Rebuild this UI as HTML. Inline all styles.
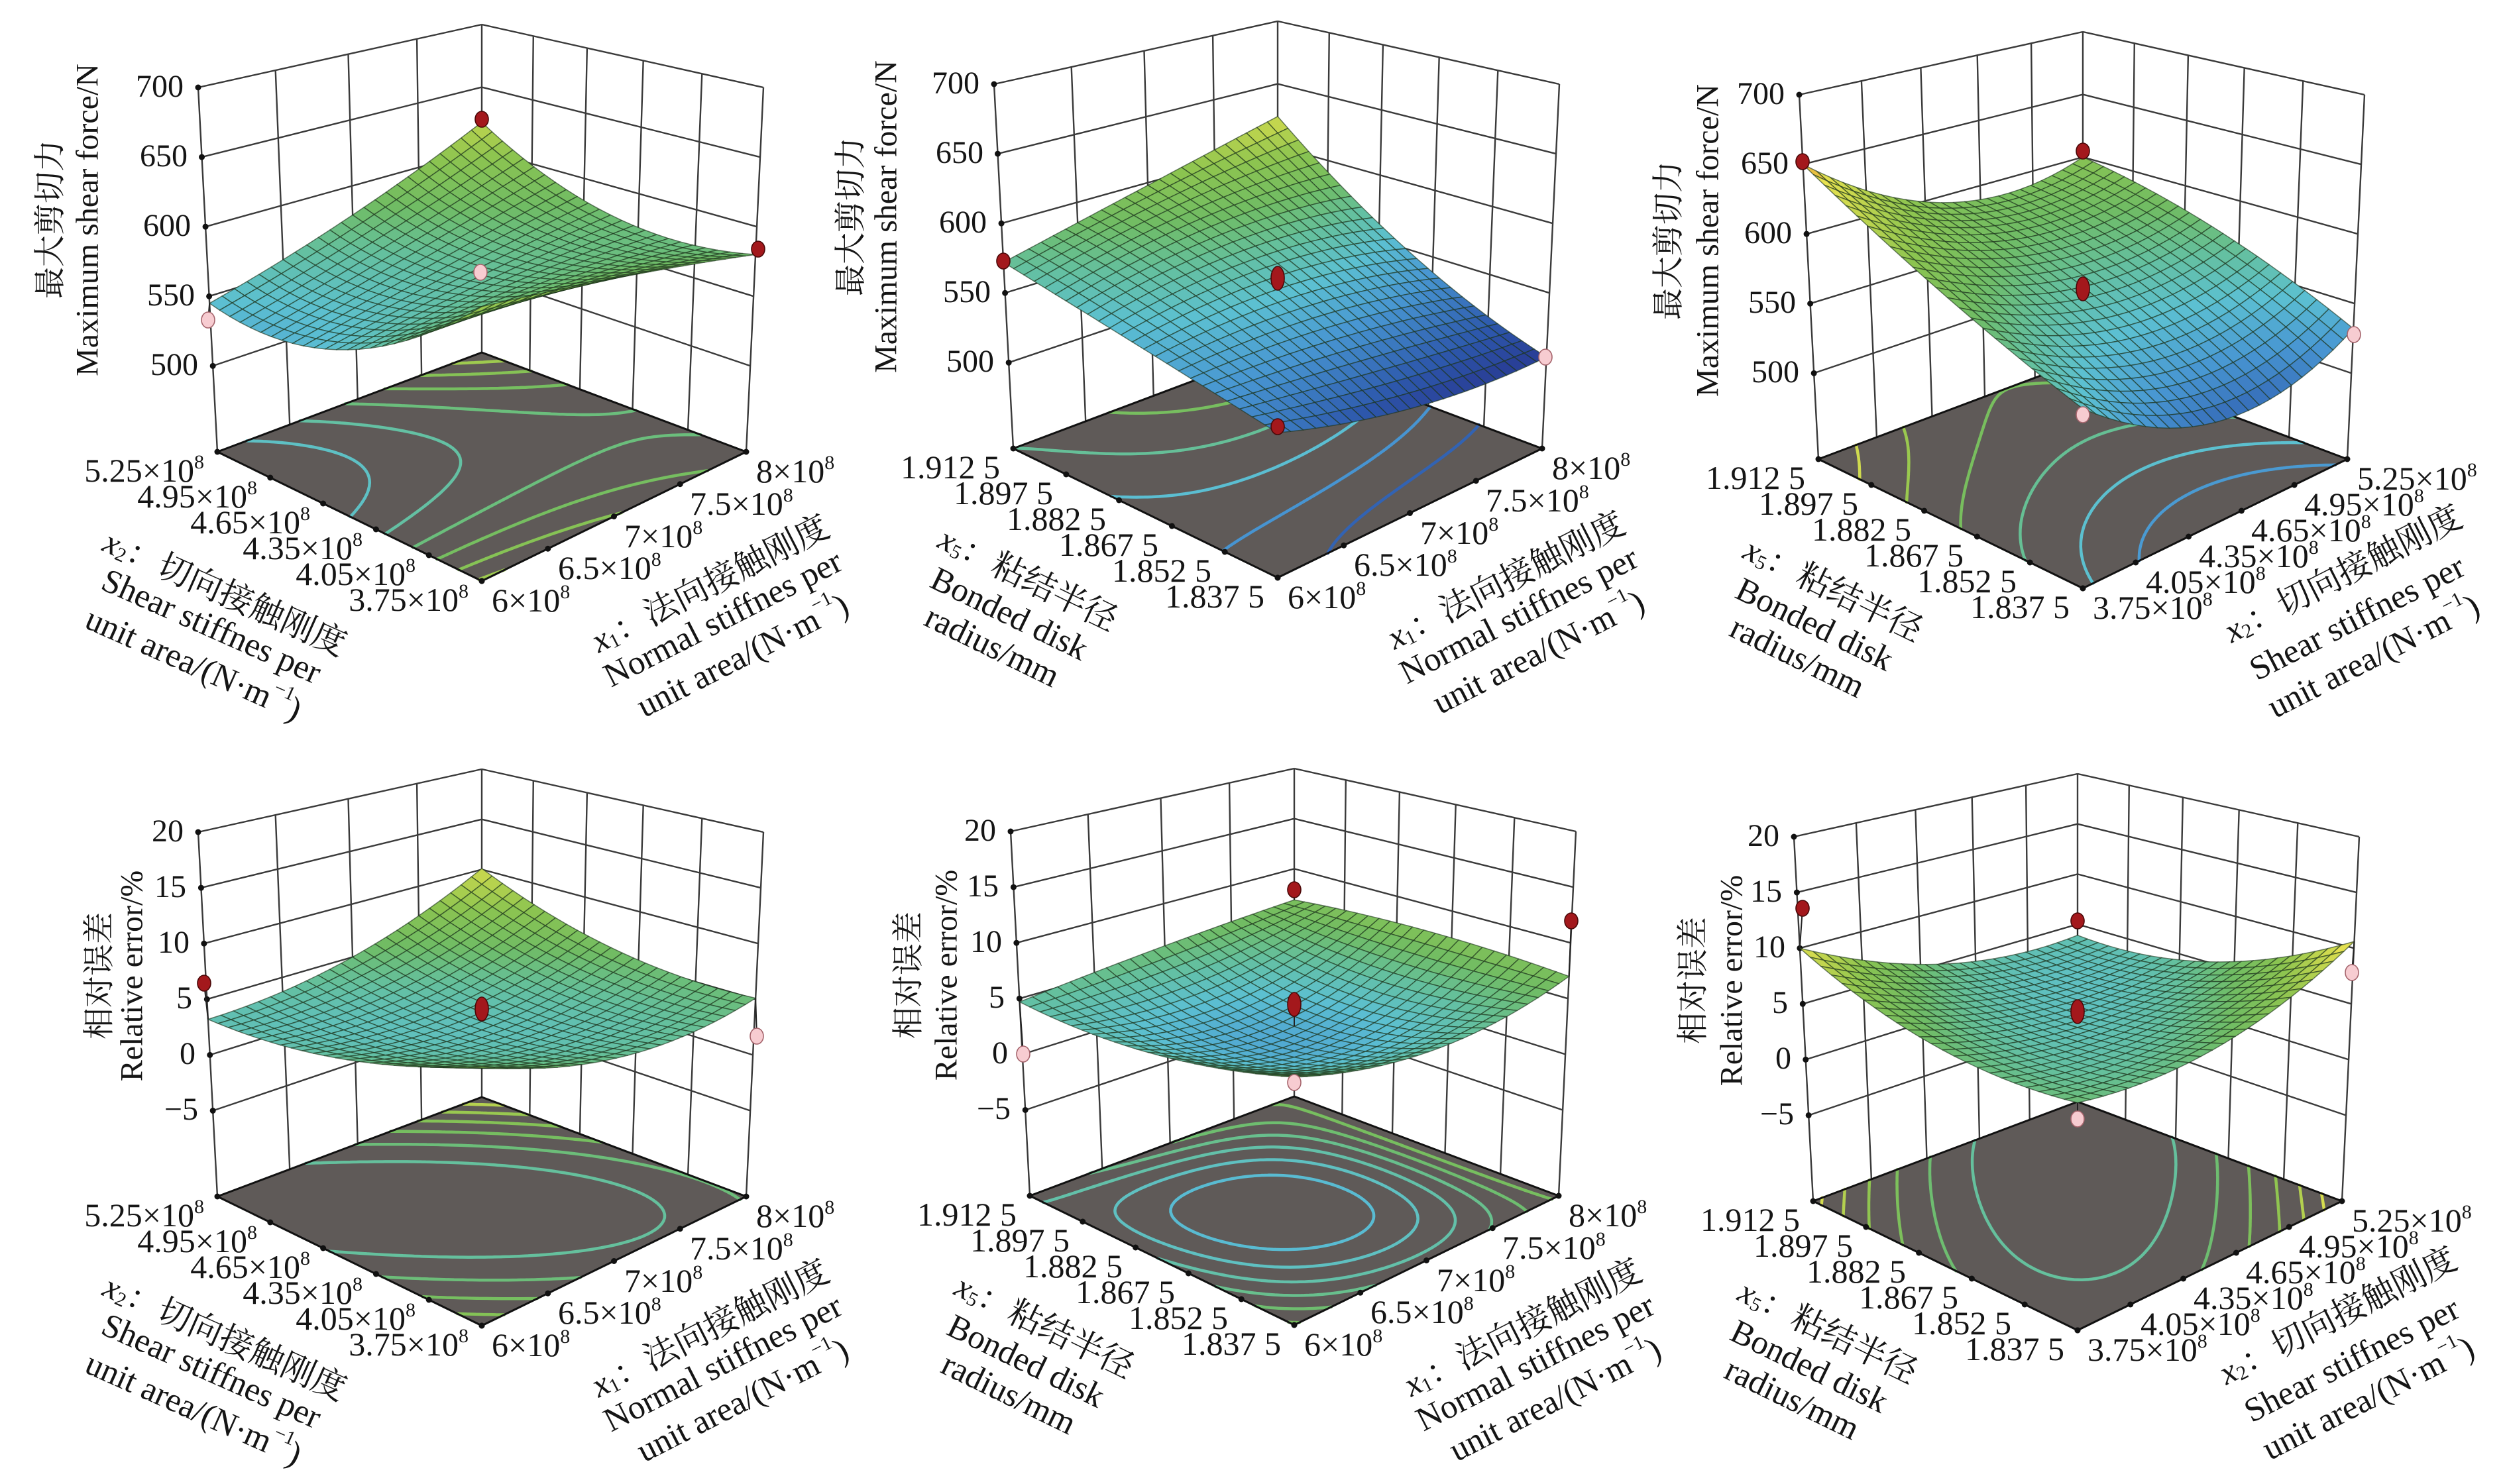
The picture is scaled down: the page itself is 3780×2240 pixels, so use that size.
<!DOCTYPE html>
<html><head><meta charset="utf-8">
<style>
html,body{margin:0;padding:0;background:#fff;}
svg{display:block;}
text{font-family:"Liberation Serif","Noto Serif CJK SC",serif;font-size:48px;fill:#151515;}
text.fl{font-size:50px;}
text.ti{font-size:51px;}
.c{font-family:"Noto Serif CJK SC","Liberation Serif",serif;}
</style></head><body>
<svg id="s" width="3780" height="2240" viewBox="0 0 3780 2240" xmlns="http://www.w3.org/2000/svg">
<rect width="3780" height="2240" fill="#fff"/>

<!-- PANEL 1 -->
<g id="p1" transform="translate(727,877)">
<text x="-428" y="-311" text-anchor="end">500</text>
<text x="-433" y="-416" text-anchor="end">550</text>
<text x="-439" y="-521" text-anchor="end">600</text>
<text x="-444" y="-626" text-anchor="end">650</text>
<text x="-450" y="-731" text-anchor="end">700</text>
<text transform="translate(-656,-546) rotate(-90)" text-anchor="middle" dominant-baseline="central" class="c">最大剪切力</text>
<text transform="translate(-595,-545) rotate(-90)" text-anchor="middle" dominant-baseline="central">Maximum shear force/N</text>
<text class="fl" x="-20" y="45" text-anchor="end">3.75×10<tspan font-size="30" dy="-20">8</tspan></text>
<text class="fl" x="-100" y="6" text-anchor="end">4.05×10<tspan font-size="30" dy="-20">8</tspan></text>
<text class="fl" x="-180" y="-33" text-anchor="end">4.35×10<tspan font-size="30" dy="-20">8</tspan></text>
<text class="fl" x="-259" y="-72" text-anchor="end">4.65×10<tspan font-size="30" dy="-20">8</tspan></text>
<text class="fl" x="-339" y="-111" text-anchor="end">4.95×10<tspan font-size="30" dy="-20">8</tspan></text>
<text class="fl" x="-419" y="-150" text-anchor="end">5.25×10<tspan font-size="30" dy="-20">8</tspan></text>
<text class="fl" x="15" y="46">6×10<tspan font-size="30" dy="-20">8</tspan></text>
<text class="fl" x="115" y="-3">6.5×10<tspan font-size="30" dy="-20">8</tspan></text>
<text class="fl" x="215" y="-51">7×10<tspan font-size="30" dy="-20">8</tspan></text>
<text class="fl" x="314" y="-100">7.5×10<tspan font-size="30" dy="-20">8</tspan></text>
<text class="fl" x="414" y="-149">8×10<tspan font-size="30" dy="-20">8</tspan></text>
<text class="ti" transform="translate(-388,19) rotate(24)" text-anchor="middle" dominant-baseline="central"><tspan font-style="italic">x</tspan><tspan font-size="30" dy="10">2</tspan><tspan dy="-10">：切向接触刚度</tspan></text>
<text class="ti" transform="translate(-408,69) rotate(24)" text-anchor="middle" dominant-baseline="central">Shear stiffnes per</text>
<text class="ti" transform="translate(-435,126) rotate(24)" text-anchor="middle" dominant-baseline="central">unit area/(N·m<tspan font-size="30" dy="-20">−1</tspan><tspan dy="20">)</tspan></text>
<text class="ti" transform="translate(345,5) rotate(-27)" text-anchor="middle" dominant-baseline="central"><tspan font-style="italic">x</tspan><tspan font-size="30" dy="10">1</tspan><tspan dy="-10">：法向接触刚度</tspan></text>
<text class="ti" transform="translate(364,57) rotate(-27)" text-anchor="middle" dominant-baseline="central">Normal stiffnes per</text>
<text class="ti" transform="translate(394,113) rotate(-27)" text-anchor="middle" dominant-baseline="central">unit area/(N·m<tspan font-size="30" dy="-20">−1</tspan><tspan dy="20">)</tspan></text>
</g>

<!-- PANEL 2 -->
<g id="p2" transform="translate(1928,872)">
<text x="-428" y="-311" text-anchor="end">500</text>
<text x="-433" y="-416" text-anchor="end">550</text>
<text x="-439" y="-521" text-anchor="end">600</text>
<text x="-444" y="-626" text-anchor="end">650</text>
<text x="-450" y="-731" text-anchor="end">700</text>
<text transform="translate(-649,-545) rotate(-90)" text-anchor="middle" dominant-baseline="central" class="c">最大剪切力</text>
<text transform="translate(-591,-545) rotate(-90)" text-anchor="middle" dominant-baseline="central">Maximum shear force/N</text>
<text class="fl" x="-20" y="45" text-anchor="end">1.837 5</text>
<text class="fl" x="-100" y="6" text-anchor="end">1.852 5</text>
<text class="fl" x="-180" y="-33" text-anchor="end">1.867 5</text>
<text class="fl" x="-259" y="-72" text-anchor="end">1.882 5</text>
<text class="fl" x="-339" y="-111" text-anchor="end">1.897 5</text>
<text class="fl" x="-419" y="-150" text-anchor="end">1.912 5</text>
<text class="fl" x="15" y="46">6×10<tspan font-size="30" dy="-20">8</tspan></text>
<text class="fl" x="115" y="-3">6.5×10<tspan font-size="30" dy="-20">8</tspan></text>
<text class="fl" x="215" y="-51">7×10<tspan font-size="30" dy="-20">8</tspan></text>
<text class="fl" x="314" y="-100">7.5×10<tspan font-size="30" dy="-20">8</tspan></text>
<text class="fl" x="414" y="-149">8×10<tspan font-size="30" dy="-20">8</tspan></text>
<text class="ti" transform="translate(-377,3) rotate(26)" text-anchor="middle" dominant-baseline="central"><tspan font-style="italic">x</tspan><tspan font-size="30" dy="10">5</tspan><tspan dy="-10">：粘结半径</tspan></text>
<text class="ti" transform="translate(-405,55) rotate(26)" text-anchor="middle" dominant-baseline="central">Bonded disk</text>
<text class="ti" transform="translate(-431,104) rotate(26)" text-anchor="middle" dominant-baseline="central">radius/mm</text>
<text class="ti" transform="translate(345,5) rotate(-27)" text-anchor="middle" dominant-baseline="central"><tspan font-style="italic">x</tspan><tspan font-size="30" dy="10">1</tspan><tspan dy="-10">：法向接触刚度</tspan></text>
<text class="ti" transform="translate(364,57) rotate(-27)" text-anchor="middle" dominant-baseline="central">Normal stiffnes per</text>
<text class="ti" transform="translate(394,113) rotate(-27)" text-anchor="middle" dominant-baseline="central">unit area/(N·m<tspan font-size="30" dy="-20">−1</tspan><tspan dy="20">)</tspan></text>
</g>

<!-- PANEL 3 -->
<g id="p3" transform="translate(3143,888)">
<text x="-428" y="-311" text-anchor="end">500</text>
<text x="-433" y="-416" text-anchor="end">550</text>
<text x="-439" y="-521" text-anchor="end">600</text>
<text x="-444" y="-626" text-anchor="end">650</text>
<text x="-450" y="-731" text-anchor="end">700</text>
<text transform="translate(-630,-525) rotate(-90)" text-anchor="middle" dominant-baseline="central" class="c">最大剪切力</text>
<text transform="translate(-566,-525) rotate(-90)" text-anchor="middle" dominant-baseline="central">Maximum shear force/N</text>
<text class="fl" x="-20" y="45" text-anchor="end">1.837 5</text>
<text class="fl" x="-100" y="6" text-anchor="end">1.852 5</text>
<text class="fl" x="-180" y="-33" text-anchor="end">1.867 5</text>
<text class="fl" x="-259" y="-72" text-anchor="end">1.882 5</text>
<text class="fl" x="-339" y="-111" text-anchor="end">1.897 5</text>
<text class="fl" x="-419" y="-150" text-anchor="end">1.912 5</text>
<text class="fl" x="15" y="46">3.75×10<tspan font-size="30" dy="-20">8</tspan></text>
<text class="fl" x="95" y="7">4.05×10<tspan font-size="30" dy="-20">8</tspan></text>
<text class="fl" x="175" y="-32">4.35×10<tspan font-size="30" dy="-20">8</tspan></text>
<text class="fl" x="254" y="-71">4.65×10<tspan font-size="30" dy="-20">8</tspan></text>
<text class="fl" x="334" y="-110">4.95×10<tspan font-size="30" dy="-20">8</tspan></text>
<text class="fl" x="414" y="-149">5.25×10<tspan font-size="30" dy="-20">8</tspan></text>
<text class="ti" transform="translate(-377,3) rotate(26)" text-anchor="middle" dominant-baseline="central"><tspan font-style="italic">x</tspan><tspan font-size="30" dy="10">5</tspan><tspan dy="-10">：粘结半径</tspan></text>
<text class="ti" transform="translate(-405,55) rotate(26)" text-anchor="middle" dominant-baseline="central">Bonded disk</text>
<text class="ti" transform="translate(-431,104) rotate(26)" text-anchor="middle" dominant-baseline="central">radius/mm</text>
<text class="ti" transform="translate(393,-21) rotate(-27)" text-anchor="middle" dominant-baseline="central"><tspan font-style="italic">x</tspan><tspan font-size="30" dy="10">2</tspan><tspan dy="-10">：切向接触刚度</tspan></text>
<text class="ti" transform="translate(414,45) rotate(-27)" text-anchor="middle" dominant-baseline="central">Shear stiffnes per</text>
<text class="ti" transform="translate(439,103) rotate(-27)" text-anchor="middle" dominant-baseline="central">unit area/(N·m<tspan font-size="30" dy="-20">−1</tspan><tspan dy="20">)</tspan></text>
</g>

<!-- PANEL 4 -->
<g id="p4" transform="translate(727,2001)">
<text x="-428" y="-311" text-anchor="end">−5</text>
<text x="-432" y="-395" text-anchor="end">0</text>
<text x="-437" y="-479" text-anchor="end">5</text>
<text x="-441" y="-563" text-anchor="end">10</text>
<text x="-446" y="-647" text-anchor="end">15</text>
<text x="-450" y="-731" text-anchor="end">20</text>
<text transform="translate(-582,-528) rotate(-90)" text-anchor="middle" dominant-baseline="central" class="c">相对误差</text>
<text transform="translate(-528,-528) rotate(-90)" text-anchor="middle" dominant-baseline="central">Relative error/%</text>
<text class="fl" x="-20" y="45" text-anchor="end">3.75×10<tspan font-size="30" dy="-20">8</tspan></text>
<text class="fl" x="-100" y="6" text-anchor="end">4.05×10<tspan font-size="30" dy="-20">8</tspan></text>
<text class="fl" x="-180" y="-33" text-anchor="end">4.35×10<tspan font-size="30" dy="-20">8</tspan></text>
<text class="fl" x="-259" y="-72" text-anchor="end">4.65×10<tspan font-size="30" dy="-20">8</tspan></text>
<text class="fl" x="-339" y="-111" text-anchor="end">4.95×10<tspan font-size="30" dy="-20">8</tspan></text>
<text class="fl" x="-419" y="-150" text-anchor="end">5.25×10<tspan font-size="30" dy="-20">8</tspan></text>
<text class="fl" x="15" y="46">6×10<tspan font-size="30" dy="-20">8</tspan></text>
<text class="fl" x="115" y="-3">6.5×10<tspan font-size="30" dy="-20">8</tspan></text>
<text class="fl" x="215" y="-51">7×10<tspan font-size="30" dy="-20">8</tspan></text>
<text class="fl" x="314" y="-100">7.5×10<tspan font-size="30" dy="-20">8</tspan></text>
<text class="fl" x="414" y="-149">8×10<tspan font-size="30" dy="-20">8</tspan></text>
<text class="ti" transform="translate(-388,19) rotate(24)" text-anchor="middle" dominant-baseline="central"><tspan font-style="italic">x</tspan><tspan font-size="30" dy="10">2</tspan><tspan dy="-10">：切向接触刚度</tspan></text>
<text class="ti" transform="translate(-408,69) rotate(24)" text-anchor="middle" dominant-baseline="central">Shear stiffnes per</text>
<text class="ti" transform="translate(-435,126) rotate(24)" text-anchor="middle" dominant-baseline="central">unit area/(N·m<tspan font-size="30" dy="-20">−1</tspan><tspan dy="20">)</tspan></text>
<text class="ti" transform="translate(345,5) rotate(-27)" text-anchor="middle" dominant-baseline="central"><tspan font-style="italic">x</tspan><tspan font-size="30" dy="10">1</tspan><tspan dy="-10">：法向接触刚度</tspan></text>
<text class="ti" transform="translate(364,57) rotate(-27)" text-anchor="middle" dominant-baseline="central">Normal stiffnes per</text>
<text class="ti" transform="translate(394,113) rotate(-27)" text-anchor="middle" dominant-baseline="central">unit area/(N·m<tspan font-size="30" dy="-20">−1</tspan><tspan dy="20">)</tspan></text>
</g>

<!-- PANEL 5 -->
<g id="p5" transform="translate(1953,2000)">
<text x="-428" y="-311" text-anchor="end">−5</text>
<text x="-432" y="-395" text-anchor="end">0</text>
<text x="-437" y="-479" text-anchor="end">5</text>
<text x="-441" y="-563" text-anchor="end">10</text>
<text x="-446" y="-647" text-anchor="end">15</text>
<text x="-450" y="-731" text-anchor="end">20</text>
<text transform="translate(-587,-528) rotate(-90)" text-anchor="middle" dominant-baseline="central" class="c">相对误差</text>
<text transform="translate(-525,-528) rotate(-90)" text-anchor="middle" dominant-baseline="central">Relative error/%</text>
<text class="fl" x="-20" y="45" text-anchor="end">1.837 5</text>
<text class="fl" x="-100" y="6" text-anchor="end">1.852 5</text>
<text class="fl" x="-180" y="-33" text-anchor="end">1.867 5</text>
<text class="fl" x="-259" y="-72" text-anchor="end">1.882 5</text>
<text class="fl" x="-339" y="-111" text-anchor="end">1.897 5</text>
<text class="fl" x="-419" y="-150" text-anchor="end">1.912 5</text>
<text class="fl" x="15" y="46">6×10<tspan font-size="30" dy="-20">8</tspan></text>
<text class="fl" x="115" y="-3">6.5×10<tspan font-size="30" dy="-20">8</tspan></text>
<text class="fl" x="215" y="-51">7×10<tspan font-size="30" dy="-20">8</tspan></text>
<text class="fl" x="314" y="-100">7.5×10<tspan font-size="30" dy="-20">8</tspan></text>
<text class="fl" x="414" y="-149">8×10<tspan font-size="30" dy="-20">8</tspan></text>
<text class="ti" transform="translate(-377,3) rotate(26)" text-anchor="middle" dominant-baseline="central"><tspan font-style="italic">x</tspan><tspan font-size="30" dy="10">5</tspan><tspan dy="-10">：粘结半径</tspan></text>
<text class="ti" transform="translate(-405,55) rotate(26)" text-anchor="middle" dominant-baseline="central">Bonded disk</text>
<text class="ti" transform="translate(-431,104) rotate(26)" text-anchor="middle" dominant-baseline="central">radius/mm</text>
<text class="ti" transform="translate(345,5) rotate(-27)" text-anchor="middle" dominant-baseline="central"><tspan font-style="italic">x</tspan><tspan font-size="30" dy="10">1</tspan><tspan dy="-10">：法向接触刚度</tspan></text>
<text class="ti" transform="translate(364,57) rotate(-27)" text-anchor="middle" dominant-baseline="central">Normal stiffnes per</text>
<text class="ti" transform="translate(394,113) rotate(-27)" text-anchor="middle" dominant-baseline="central">unit area/(N·m<tspan font-size="30" dy="-20">−1</tspan><tspan dy="20">)</tspan></text>
</g>

<!-- PANEL 6 -->
<g id="p6" transform="translate(3135,2008)">
<text x="-428" y="-311" text-anchor="end">−5</text>
<text x="-432" y="-395" text-anchor="end">0</text>
<text x="-437" y="-479" text-anchor="end">5</text>
<text x="-441" y="-563" text-anchor="end">10</text>
<text x="-446" y="-647" text-anchor="end">15</text>
<text x="-450" y="-731" text-anchor="end">20</text>
<text transform="translate(-585,-528) rotate(-90)" text-anchor="middle" dominant-baseline="central" class="c">相对误差</text>
<text transform="translate(-522,-528) rotate(-90)" text-anchor="middle" dominant-baseline="central">Relative error/%</text>
<text class="fl" x="-20" y="45" text-anchor="end">1.837 5</text>
<text class="fl" x="-100" y="6" text-anchor="end">1.852 5</text>
<text class="fl" x="-180" y="-33" text-anchor="end">1.867 5</text>
<text class="fl" x="-259" y="-72" text-anchor="end">1.882 5</text>
<text class="fl" x="-339" y="-111" text-anchor="end">1.897 5</text>
<text class="fl" x="-419" y="-150" text-anchor="end">1.912 5</text>
<text class="fl" x="15" y="46">3.75×10<tspan font-size="30" dy="-20">8</tspan></text>
<text class="fl" x="95" y="7">4.05×10<tspan font-size="30" dy="-20">8</tspan></text>
<text class="fl" x="175" y="-32">4.35×10<tspan font-size="30" dy="-20">8</tspan></text>
<text class="fl" x="254" y="-71">4.65×10<tspan font-size="30" dy="-20">8</tspan></text>
<text class="fl" x="334" y="-110">4.95×10<tspan font-size="30" dy="-20">8</tspan></text>
<text class="fl" x="414" y="-149">5.25×10<tspan font-size="30" dy="-20">8</tspan></text>
<text class="ti" transform="translate(-377,3) rotate(26)" text-anchor="middle" dominant-baseline="central"><tspan font-style="italic">x</tspan><tspan font-size="30" dy="10">5</tspan><tspan dy="-10">：粘结半径</tspan></text>
<text class="ti" transform="translate(-405,55) rotate(26)" text-anchor="middle" dominant-baseline="central">Bonded disk</text>
<text class="ti" transform="translate(-431,104) rotate(26)" text-anchor="middle" dominant-baseline="central">radius/mm</text>
<text class="ti" transform="translate(393,-21) rotate(-27)" text-anchor="middle" dominant-baseline="central"><tspan font-style="italic">x</tspan><tspan font-size="30" dy="10">2</tspan><tspan dy="-10">：切向接触刚度</tspan></text>
<text class="ti" transform="translate(414,45) rotate(-27)" text-anchor="middle" dominant-baseline="central">Shear stiffnes per</text>
<text class="ti" transform="translate(439,103) rotate(-27)" text-anchor="middle" dominant-baseline="central">unit area/(N·m<tspan font-size="30" dy="-20">−1</tspan><tspan dy="20">)</tspan></text>
</g>
</svg>

<script>
(function(){
var NS="http://www.w3.org/2000/svg";
var C={F:[0,0],R:[399,-195],B:[0,-345],L:[-399,-195],TF:[0,-624],TR:[425,-745],TB:[0,-840],TL:[-428,-745]};
function homog(p0,p1,p2,p3){
  var x0=p0[0],y0=p0[1],x1=p1[0],y1=p1[1],x2=p2[0],y2=p2[1],x3=p3[0],y3=p3[1];
  var dx1=x1-x2,dx2=x3-x2,dx3=x0-x1+x2-x3,dy1=y1-y2,dy2=y3-y2,dy3=y0-y1+y2-y3;
  var g=0,h=0;
  if(Math.abs(dx3)>1e-9||Math.abs(dy3)>1e-9){var den=dx1*dy2-dx2*dy1;g=(dx3*dy2-dx2*dy3)/den;h=(dx1*dy3-dx3*dy1)/den;}
  var a=x1-x0+g*x1,b=x3-x0+h*x3,c=x0,d=y1-y0+g*y1,e=y3-y0+h*y3,f=y0;
  return function(u,v){var w=g*u+h*v+1;return [(a*u+b*v+c)/w,(d*u+e*v+f)/w];};
}
var Hf=homog(C.F,C.R,C.B,C.L),Ht=homog(C.TF,C.TR,C.TB,C.TL);
function P(u,v,w){var a=Hf(u,v),b=Ht(u,v);return [a[0]+(b[0]-a[0])*w,a[1]+(b[1]-a[1])*w];}
function lag(t){return [2*(t-.5)*(t-1),-4*t*(t-1),2*t*(t-.5)];}
function zf(G,u,v){var a=lag(u),b=lag(v),s=0;for(var i=0;i<3;i++)for(var j=0;j<3;j++)s+=G[i][j]*a[i]*b[j];return s;}
var stops=[[0,[38,43,134]],[0.15,[45,88,172]],[0.3,[72,150,210]],[0.42,[92,192,210]],[0.52,[100,192,160]],[0.62,[112,188,100]],[0.74,[140,196,80]],[0.86,[196,214,78]],[0.94,[232,226,80]],[1,[232,150,46]]];
function cmap(t){t=t<0?0:(t>1?1:t);for(var k=1;k<stops.length;k++){if(t<=stops[k][0]){var a=stops[k-1],b=stops[k],f=(t-a[0])/(b[0]-a[0]);var r=[0,1,2].map(function(i){return Math.round(a[1][i]+(b[1][i]-a[1][i])*f);});return 'rgb('+r.join(',')+')';}}return 'rgb(232,150,46)';}
function el(tag,at,par){var e=document.createElementNS(NS,tag);for(var k in at)e.setAttribute(k,at[k]);par.appendChild(e);return e;}
function f1(p){return p[0].toFixed(1)+' '+p[1].toFixed(1);}
var Z1=[438.3,700],Z2=[-12.7,20],T1=[500,550,600,650,700],T2=[-5,0,5,10,15,20];
var PN=[
 {id:'p1',G:[[612,548,545],[598,565,578],[580,578,622]],zr:Z1,zt:T1,cr:[470,650],nR:4,
  mk:[[-413,-394,'p',0,1],[0,-697,'r',1,1],[417,-501,'r',1,0],[-2,-466,'p',.5,.5]]},
 {id:'p2',G:[[530,551,572],[508,562,598],[504,550,624]],zr:Z1,zt:T1,cr:[495,640],nR:4,
  mk:[[-414,-478,'r',0,1],[0,-452,'t',.5,.5],[0,-228,'r',0,0],[404,-333,'p',1,0]]},
 {id:'p3',G:[[552,595,650],[506,562,593],[532,575,600]],zr:Z1,zt:T1,cr:[470,650],nR:5,
  mk:[[-423,-644,'r',0,1],[0,-660,'r',1,1],[0,-452,'t',.5,.5],[409,-383,'p',1,0],[0,-262,'p',0,0]]},
 {id:'p4',G:[[7.8,4.1,3.2],[4.3,3.0,5.0],[5.1,5.9,10.1]],zr:Z2,zt:T2,cr:[-5,12],nR:4,
  mk:[[-419,-517,'r',0,1],[0,-478,'t',.5,.5],[415,-437,'p',1,0]]},
 {id:'p5',G:[[6.9,4.5,4.7],[4.9,2.5,6.0],[7.0,7.5,6.9]],zr:Z2,zt:T2,cr:[-3,12],nR:4,
  mk:[[-409,-409,'p',0,1],[0,-657,'r',1,1],[418,-610,'r',1,0],[0,-484,'t',.5,.5],[0,-366,'p',0,0]]},
 {id:'p6',G:[[5.3,5.7,10.0],[5.7,3.5,4.8],[10.6,5.0,3.9]],zr:Z2,zt:T2,cr:[-3,11],nR:5,
  mk:[[-415,-637,'r',0,1],[0,-618,'r',1,1],[0,-481,'t',.5,.5],[414,-540,'p',1,0],[0,-319,'p',0,0]]}
];
function contourPath(G,lev,M,V){
  var d='';
  for(var i=0;i<M;i++)for(var j=0;j<M;j++){
    var a=V[i][j]-lev,b=V[i+1][j]-lev,c=V[i+1][j+1]-lev,e=V[i][j+1]-lev,ps=[],t;
    if((a<0)!=(b<0)){t=a/(a-b);ps.push([(i+t)/M,j/M]);}
    if((b<0)!=(c<0)){t=b/(b-c);ps.push([(i+1)/M,(j+t)/M]);}
    if((c<0)!=(e<0)){t=c/(c-e);ps.push([(i+1-t)/M,(j+1)/M]);}
    if((e<0)!=(a<0)){t=e/(e-a);ps.push([i/M,(j+1-t)/M]);}
    for(var k=0;k+1<ps.length;k+=2){d+='M'+f1(Hf(ps[k][0],ps[k][1]))+'L'+f1(Hf(ps[k+1][0],ps[k+1][1]));}
  }
  return d;
}
PN.forEach(function(pn){
  var root=document.getElementById(pn.id);
  var g=document.createElementNS(NS,'g');
  root.insertBefore(g,root.firstChild);
  var z0=pn.zr[0],z1=pn.zr[1];
  function W(z){return (z-z0)/(z1-z0);}
  var wl='';
  var ws=pn.zt.map(W);ws.push(1);
  ws.forEach(function(w){wl+='M'+f1(P(0,1,w))+'L'+f1(P(1,1,w))+'M'+f1(P(1,0,w))+'L'+f1(P(1,1,w));});
  for(var k=0;k<=pn.nR;k++){var u=k/pn.nR;wl+='M'+f1(P(u,1,0))+'L'+f1(P(u,1,1));}
  for(k=0;k<=5;k++){var v=k/5;wl+='M'+f1(P(1,v,0))+'L'+f1(P(1,v,1));}
  el('path',{d:wl,fill:'none',stroke:'#3a3a3a','stroke-width':'2.4'},g);
  pn.zt.forEach(function(z){var p=P(0,1,W(z));el('circle',{cx:p[0],cy:p[1],r:4.5,fill:'#111'},g);});
  el('path',{d:'M'+f1(C.F)+'L'+f1(C.R)+'L'+f1(C.B)+'L'+f1(C.L)+'Z',fill:'#5f5a58',stroke:'none'},g);
  var M=70,V=[],zmin=1e9,zmax=-1e9;
  for(var i=0;i<=M;i++){V[i]=[];for(var j=0;j<=M;j++){var zz=zf(pn.G,i/M,j/M);V[i][j]=zz;if(zz<zmin)zmin=zz;if(zz>zmax)zmax=zz;}}
  for(k=1;k<=6;k++){var lev=zmin+(zmax-zmin)*k/7;var d=contourPath(pn.G,lev,M,V);
    if(d)el('path',{d:d,fill:'none',stroke:cmap((lev-pn.cr[0])/(pn.cr[1]-pn.cr[0])),'stroke-width':'4.5','stroke-linecap':'round'},g);}
  el('path',{d:'M'+f1(C.F)+'L'+f1(C.R)+'L'+f1(C.B)+'L'+f1(C.L)+'Z',fill:'none',stroke:'#111','stroke-width':'3','stroke-linejoin':'round'},g);
  for(k=0;k<=5;k++){var t=k/5;el('circle',{cx:C.L[0]*t,cy:C.L[1]*t,r:4.5,fill:'#111'},g);}
  for(k=0;k<=pn.nR;k++){t=k/pn.nR;el('circle',{cx:C.R[0]*t,cy:C.R[1]*t,r:4.5,fill:'#111'},g);}
  var N=24,S=[],Zg=[];
  for(i=0;i<=N;i++){S[i]=[];Zg[i]=[];for(j=0;j<=N;j++){var z=zf(pn.G,i/N,j/N);Zg[i][j]=z;S[i][j]=P(i/N,j/N,W(z));}}
  var q=[];for(i=0;i<N;i++)for(j=0;j<N;j++)q.push([i,j]);
  q.sort(function(a,b){return (b[0]+b[1])-(a[0]+a[1]);});
  var sg=el('g',{stroke:'rgba(28,52,28,0.62)','stroke-width':'1.5','stroke-linejoin':'round'},g);
  q.forEach(function(c){var i=c[0],j=c[1];
    var za=(Zg[i][j]+Zg[i+1][j]+Zg[i+1][j+1]+Zg[i][j+1])/4;
    el('path',{d:'M'+f1(S[i][j])+'L'+f1(S[i+1][j])+'L'+f1(S[i+1][j+1])+'L'+f1(S[i][j+1])+'Z',fill:cmap((za-pn.cr[0])/(pn.cr[1]-pn.cr[0]))},sg);});
  pn.mk.forEach(function(m){
    var sp=P(m[3],m[4],W(zf(pn.G,m[3],m[4])));
    el('line',{x1:m[0],y1:m[1],x2:sp[0],y2:sp[1],stroke:'#222','stroke-width':'2'},g);
  });
  pn.mk.forEach(function(m){
    if(m[2]=='p')el('ellipse',{cx:m[0],cy:m[1],rx:10,ry:12,fill:'#f7ccd1',stroke:'#a5646c','stroke-width':'1.6'},g);
    else if(m[2]=='r')el('ellipse',{cx:m[0],cy:m[1],rx:10,ry:12,fill:'#a3181c',stroke:'#4a0808','stroke-width':'1.6'},g);
    else el('ellipse',{cx:m[0],cy:m[1],rx:10,ry:18,fill:'#a3181c',stroke:'#4a0808','stroke-width':'1.6'},g);
  });
});
})();
</script>
</body></html>
